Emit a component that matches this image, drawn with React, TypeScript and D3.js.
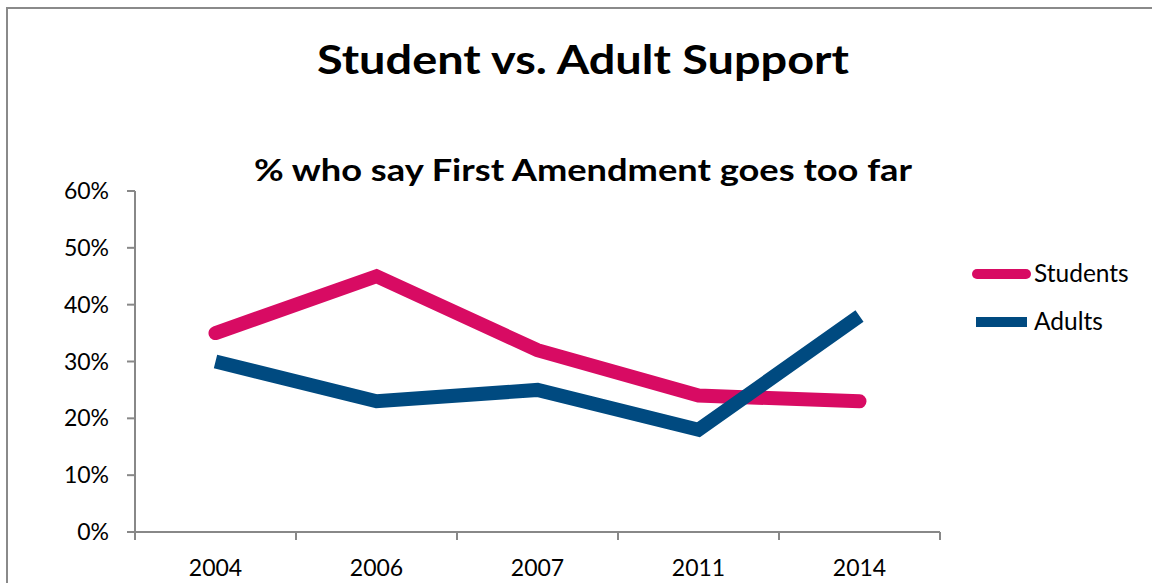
import React from "react";
import * as d3 from "d3";

const years = ["2004", "2006", "2007", "2011", "2014"];
const students = [35, 45, 32, 24, 23];
const adults = [30, 23, 25, 18, 38];
const yTicks = [0, 10, 20, 30, 40, 50, 60];
const seriesNames = ["Students", "Adults"];
const colors = ["#D80B63", "#004A80"];

const W = 1152;
const H = 583;
const FONT = "Lato, 'Open Sans', sans-serif";

export default function App() {
  const x0 = 135;
  const x1 = 940;
  const yTop = 191;
  const yBot = 532;
  const x = d3.scaleBand<string>().domain(years).range([x0, x1]);
  const y = d3.scaleLinear().domain([0, 60]).range([yBot, yTop]);
  const line = d3
    .line<number>()
    .x((_, i) => (x(years[i]) as number) + x.bandwidth() / 2)
    .y((d) => y(d));
  const boundaries = d3.range(years.length + 1).map((i) => x0 + i * x.step());

  return (
    <svg
      width={W}
      height={H}
      style={{ position: "absolute", left: 0, top: 0, background: "#fff" }}
    >
      <rect x={7} y={8} width={1160} height={600} fill="#fff" stroke="#8a8a8a" strokeWidth={2} />
      <text
        x={583}
        y={74}
        textAnchor="middle"
        fontFamily={FONT}
        fontWeight="bold"
        fontSize={40}
        textLength={532}
        lengthAdjust="spacingAndGlyphs"
        fill="#000"
      >
        Student vs. Adult Support
      </text>
      <text
        x={583}
        y={181}
        textAnchor="middle"
        fontFamily={FONT}
        fontWeight="bold"
        fontSize={30}
        textLength={658}
        lengthAdjust="spacingAndGlyphs"
        fill="#000"
      >
        % who say First Amendment goes too far
      </text>
      {/* y axis */}
      <line x1={x0} x2={x0} y1={yTop} y2={yBot} stroke="#888" strokeWidth={2} />
      {yTicks.map((t) => (
        <g key={t}>
          <line x1={x0 - 8} x2={x0} y1={y(t)} y2={y(t)} stroke="#888" strokeWidth={2} />
          <text
            x={109}
            y={y(t) + 8}
            textAnchor="end"
            fontFamily={FONT}
            fontSize={23}
            fill="#000"
          >
            {t}%
          </text>
        </g>
      ))}
      {/* x axis */}
      <line x1={x0} x2={x1} y1={yBot} y2={yBot} stroke="#888" strokeWidth={2} />
      {boundaries.map((b, i) => (
        <line key={i} x1={b} x2={b} y1={yBot} y2={yBot + 8} stroke="#888" strokeWidth={2} />
      ))}
      {years.map((yr) => (
        <text
          key={yr}
          x={(x(yr) as number) + x.bandwidth() / 2}
          y={576}
          textAnchor="middle"
          fontFamily={FONT}
          fontSize={23}
          fill="#000"
        >
          {yr}
        </text>
      ))}
      {/* lines */}
      <path d={line(students) || ""} fill="none" stroke={colors[0]} strokeWidth={14} strokeLinecap="round" strokeLinejoin="miter" />
      <path d={line(adults) || ""} fill="none" stroke={colors[1]} strokeWidth={14} strokeLinecap="butt" strokeLinejoin="miter" />
      {/* legend */}
      {seriesNames.map((n, i) => (
        <g key={n}>
          <line
            x1={i === 0 ? 977 : 976}
            x2={i === 0 ? 1026 : 1027}
            y1={274 + i * 48}
            y2={274 + i * 48}
            stroke={colors[i]}
            strokeWidth={10}
            strokeLinecap={i === 0 ? "round" : "butt"}
          />
          <text
            x={1034}
            y={282 + i * 48}
            fontFamily={FONT}
            fontSize={24.5}
            fill="#000"
          >
            {n}
          </text>
        </g>
      ))}
    </svg>
  );
}
